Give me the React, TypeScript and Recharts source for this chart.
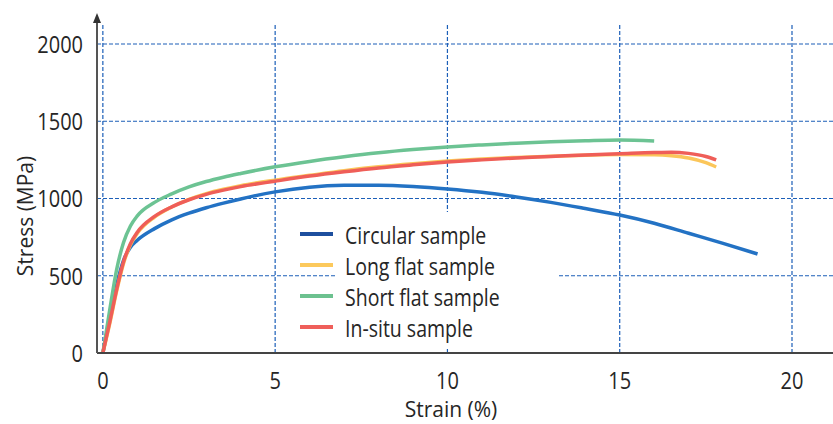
// Stress-strain curves for four sample geometries

import { LineChart, Line, XAxis, YAxis, CartesianGrid, Legend } from 'recharts';

const circularStrain = [0, 0.2, 0.4, 0.6, 0.8, 1, 1.5, 2, 2.5, 3, 3.5, 4, 5, 6, 7, 8, 9, 10, 11, 12, 13, 14, 15, 16, 17, 18, 19];
const circularStress = [0, 220, 440, 600, 685, 730, 805, 862, 905, 940, 970, 997, 1043, 1073, 1085, 1086, 1078, 1062, 1040, 1010, 975, 935, 893, 840, 775, 710, 641];

const longFlatStrain = [0, 0.2, 0.4, 0.6, 0.8, 1, 1.5, 2, 2.5, 3, 3.5, 4, 5, 6, 7, 8, 9, 10, 11, 12, 13, 14, 15, 16, 16.5, 17, 17.5, 17.8];
const longFlatStress = [0, 190, 400, 580, 700, 775, 880, 945, 995, 1032, 1060, 1083, 1119, 1150, 1180, 1205, 1225, 1242, 1256, 1266, 1274, 1280, 1284, 1283, 1277, 1262, 1232, 1204];

const shortFlatStrain = [0, 0.2, 0.4, 0.6, 0.8, 1, 1.5, 2, 2.5, 3, 3.5, 4, 5, 6, 7, 8, 9, 10, 11, 12, 13, 14, 15, 16];
const shortFlatStress = [0, 280, 540, 715, 822, 888, 975, 1030, 1075, 1110, 1138, 1162, 1205, 1240, 1270, 1296, 1317, 1334, 1347, 1358, 1367, 1374, 1379, 1372];

const inSituStrain = [0, 0.2, 0.4, 0.6, 0.8, 1, 1.5, 2, 2.5, 3, 3.5, 4, 5, 6, 7, 8, 9, 10, 11, 12, 13, 14, 15, 16, 16.5, 17, 17.5, 17.8];
const inSituStress = [0, 200, 410, 590, 708, 782, 884, 946, 992, 1027, 1054, 1077, 1112, 1145, 1173, 1198, 1218, 1236, 1250, 1262, 1272, 1282, 1290, 1298, 1300, 1292, 1272, 1250];

const xTicks = [0, 5, 10, 15, 20];
const yTicks = [0, 500, 1000, 1500, 2000];

const toPoints = (xs: number[], ys: number[]) => xs.map((x, i) => ({ x, y: ys[i] }));

const series = [
  { name: 'Circular sample', color: '#2372c4', swatch: '#1d4f9e', data: toPoints(circularStrain, circularStress) },
  { name: 'Long flat sample', color: '#fbc65a', swatch: '#fcc95c', data: toPoints(longFlatStrain, longFlatStress) },
  { name: 'Short flat sample', color: '#6cc393', swatch: '#6cc18f', data: toPoints(shortFlatStrain, shortFlatStress) },
  { name: 'In-situ sample', color: '#ef5e58', swatch: '#ef5f5a', data: toPoints(inSituStrain, inSituStress) },
];

const FONT = '"Open Sans", sans-serif';
const TEXT = '#262626';
const GRID = '#1c5fb8';
const STRETCH = 1.22; // reference type is tall and narrow

// tick text, stretched vertically around its anchor
function TallTick(props: any) {
  const { x, y, payload, textAnchor, vertical } = props;
  return (
    <text
      x={x}
      y={y}
      dy={vertical ? '0.36em' : '0.71em'}
      textAnchor={textAnchor}
      fontSize={20}
      fill={TEXT}
      fontFamily={FONT}
      transform={`translate(${x},${y}) scale(1,${STRETCH}) translate(${-x},${-y})`}
    >
      {payload.value}
    </text>
  );
}

function SampleLegend() {
  return (
    <div style={{ position: 'relative', width: 260, height: 136, fontFamily: FONT }}>
      <div style={{ position: 'absolute', left: 37, top: 0, width: 220, height: 136, background: '#fff' }} />
      {series.map((s, i) => (
        <div key={s.name} style={{ position: 'absolute', left: 0, top: 7 + i * 31, height: 30, display: 'flex', alignItems: 'center' }}>
          <div style={{ width: 33, height: 4, background: s.swatch, marginRight: 12 }} />
          <span style={{ fontSize: 19.5, color: TEXT, display: 'inline-block', transform: `scaleY(${STRETCH})` }}>{s.name}</span>
        </div>
      ))}
    </div>
  );
}

export default function App() {
  return (
    <div style={{ position: 'relative', width: 833, height: 424, background: '#fff', fontFamily: FONT }}>
      <style>{'body{margin:0}'}</style>
      <LineChart width={833} height={424} margin={{ top: 25, right: 0, bottom: 0, left: 0 }}>
        <CartesianGrid stroke={GRID} strokeWidth={1.2} strokeDasharray="4 2" verticalValues={xTicks} horizontalValues={[500, 1000, 1500, 2000]} />
        <XAxis
          type="number"
          dataKey="x"
          domain={[-0.17, 21.19]}
          ticks={xTicks}
          allowDataOverflow
          height={71}
          tickSize={0}
          tickMargin={19}
          tick={<TallTick />}
          axisLine={{ stroke: '#444', strokeWidth: 2 }}
          label={{ value: 'Strain (%)', position: 'center', dx: -14, dy: 21, fontSize: 21, fill: TEXT, fontFamily: FONT }}
        />
        <YAxis
          type="number"
          dataKey="y"
          domain={[0, 2123]}
          ticks={yTicks}
          allowDataOverflow
          width={97}
          tickSize={0}
          tickMargin={14}
          tick={<TallTick vertical />}
          axisLine={{ stroke: '#555', strokeWidth: 2 }}
          label={{ value: 'Stress (MPa)', angle: -90, position: 'center', dx: -23, dy: 27, fontSize: 21, fill: TEXT, fontFamily: FONT }}
        />
        <Legend
          layout="vertical"
          align="center"
          verticalAlign="middle"
          wrapperStyle={{ left: 300, top: 212, width: 260 }}
          content={() => <SampleLegend />}
        />
        {series.map(s => (
          <Line
            key={s.name}
            data={s.data}
            dataKey="y"
            name={s.name}
            type="monotone"
            stroke={s.color}
            strokeWidth={3.5}
            dot={false}
            activeDot={false}
            isAnimationActive={false}
          />
        ))}
      </LineChart>
      {/* arrow head on top of the stress axis */}
      <svg width={833} height={424} style={{ position: 'absolute', left: 0, top: 0, pointerEvents: 'none' }}>
        <line x1={97} y1={26} x2={97} y2={18} stroke="#555" strokeWidth={2} />
        <polygon points="93,23 97,13 101,23" fill="#333" />
      </svg>
    </div>
  );
}
